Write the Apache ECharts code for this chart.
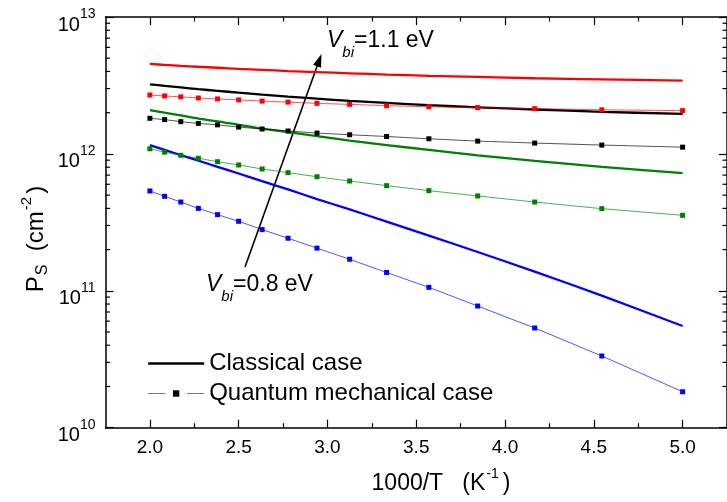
<!DOCTYPE html>
<html><head><meta charset="utf-8">
<script src="https://cdn.jsdelivr.net/npm/echarts@6/dist/echarts.min.js"></script>
<style>html,body{margin:0;padding:0;background:#fff}#c{width:727px;height:502px}</style>
</head><body><div id="c"></div>
<script>
// ---- data (values in units of 1e12 cm^-2) ----
const UNIT = 1e12;
const invT = [2.000, 2.083, 2.174, 2.273, 2.381, 2.500, 2.632, 2.778, 2.941, 3.125, 3.333, 3.571, 3.846, 4.167, 4.545, 5.000];
const xTicks = [2.0, 2.5, 3.0, 3.5, 4.0, 4.5, 5.0];
const xMinorTicks = [2.25, 2.75, 3.25, 3.75, 4.25, 4.75];
const yMinorTicks = [2e10,3e10,4e10,5e10,6e10,7e10,8e10,9e10,2e11,3e11,4e11,5e11,6e11,7e11,8e11,9e11,2e12,3e12,4e12,5e12,6e12,7e12,8e12,9e12];

const classicalRed   = [4.54,4.47,4.40,4.33,4.26,4.18,4.11,4.03,3.96,3.88,3.80,3.72,3.65,3.57,3.50,3.43];
const quantumRed     = [2.69,2.65,2.61,2.56,2.52,2.48,2.43,2.39,2.34,2.30,2.25,2.21,2.18,2.14,2.10,2.07];
const classicalBlack = [3.22,3.14,3.06,2.97,2.89,2.80,2.71,2.62,2.53,2.44,2.36,2.27,2.19,2.11,2.03,1.96];
const quantumBlack   = [1.82,1.78,1.72,1.67,1.63,1.57,1.52,1.47,1.42,1.38,1.34,1.29,1.24,1.20,1.16,1.12];
const classicalGreen = [2.09,2.00,1.91,1.81,1.73,1.63,1.53,1.44,1.35,1.25,1.16,1.07,0.977,0.889,0.805,0.724];
const quantumGreen   = [1.09,1.03,0.977,0.929,0.877,0.830,0.776,0.729,0.681,0.634,0.586,0.539,0.493,0.445,0.398,0.356];
const classicalBlue  = [1.16,1.07,0.980,0.892,0.805,0.719,0.632,0.550,0.468,0.393,0.320,0.253,0.192,0.138,0.0922,0.0553];
const quantumBlue    = [0.536,0.490,0.445,0.400,0.360,0.322,0.280,0.242,0.205,0.170,0.136,0.106,0.0774,0.0535,0.0334,0.0183];

const FONT = "'Liberation Sans', Arial, sans-serif";
const pairs = arr => arr.map((v, i) => [invT[i], v * UNIT]);

function classical(name, color, vals) {
  return { type: 'line', name, data: pairs(vals), symbol: 'none', smooth: 0.3,
    lineStyle: { color, width: 2.3 }, itemStyle: { color }, z: 2, silent: true };
}
function quantum(name, color, vals) {
  return { type: 'line', name, data: pairs(vals), symbol: 'rect', symbolSize: 5, showSymbol: true,
    lineStyle: { color, width: 0.9, opacity: 0.75 }, itemStyle: { color }, z: 3, silent: true };
}

const chart = echarts.init(document.getElementById('c'), null, { renderer: 'canvas' });
const GL = 105.5, GT = 17, GW = 627, GH = 410.7;
const axisLineStyle = { color: '#000', width: 1.5 };
const tickLineStyle = { color: '#000', width: 1.2 };
const hiddenX = (pos, vals, len, line) => ({
  type: 'value', min: 1.75, max: 5.25, position: pos, gridIndex: 0,
  axisLine: { show: line, onZero: false, lineStyle: axisLineStyle },
  axisTick: { show: true, inside: true, length: len, customValues: vals, lineStyle: tickLineStyle },
  axisLabel: { show: false }, splitLine: { show: false }
});

chart.setOption({
  animation: false,
  backgroundColor: '#fff',
  grid: { left: GL, top: GT, width: GW, height: GH, containLabel: false },
  xAxis: [
    { type: 'value', min: 1.75, max: 5.25, position: 'bottom',
      axisLine: { show: true, onZero: false, lineStyle: axisLineStyle },
      axisTick: { show: true, inside: true, length: 8, customValues: xTicks, lineStyle: tickLineStyle },
      axisLabel: { customValues: xTicks, formatter: v => v.toFixed(1), fontSize: 19, fontFamily: FONT, color: '#000', margin: 11 },
      splitLine: { show: false } },
    hiddenX('bottom', xMinorTicks, 4.5, false),
    hiddenX('top', xTicks, 8, true),
    hiddenX('top', xMinorTicks, 4.5, false)
  ],
  yAxis: [
    { type: 'log', logBase: 10, min: 1e10, max: 1e13, position: 'left',
      axisLine: { show: true, onZero: false, lineStyle: axisLineStyle },
      axisTick: { show: true, inside: true, length: 8, lineStyle: tickLineStyle },
      axisLabel: { margin: 10, showMinLabel: true, showMaxLabel: true,
        formatter: v => '{b|10}{s|' + Math.round(Math.log10(v)) + '}',
        rich: {
          b: { fontSize: 20, lineHeight: 20, padding: [8, 0, 4, 0], verticalAlign: 'top', fontFamily: FONT, color: '#000' },
          s: { fontSize: 14, lineHeight: 14, verticalAlign: 'top', fontFamily: FONT, color: '#000' }
        } },
      splitLine: { show: false }, minorTick: { show: false } },
    { type: 'log', logBase: 10, min: 1e10, max: 1e13, position: 'right',
      axisLine: { show: true, onZero: false, lineStyle: axisLineStyle },
      axisTick: { show: true, inside: true, length: 8, lineStyle: tickLineStyle },
      axisLabel: { show: false }, splitLine: { show: false } }
  ],
  legend: {
    data: [ { name: 'Classical case', itemStyle: { opacity: 0 }, lineStyle: { color: '#000', width: 2.3 } },
            { name: 'Quantum mechanical case', itemStyle: { color: '#000', borderWidth: 0 },
              lineStyle: { type: [17, 22], color: '#777', width: 1.2, opacity: 1 } } ],
    orient: 'vertical', left: 147, top: 351, padding: 0, itemWidth: 56, itemHeight: 8, itemGap: 5,
    selectedMode: false,
    textStyle: { fontSize: 24, lineHeight: 25, fontFamily: FONT, color: '#000' }
  },
  series: [
    classical('red-classical', '#ff0000', classicalRed),
    classical('Classical case', '#000000', classicalBlack),
    classical('green-classical', '#008000', classicalGreen),
    classical('blue-classical', '#0000ff', classicalBlue),
    quantum('red-quantum', '#ff0000', quantumRed),
    quantum('Quantum mechanical case', '#000000', quantumBlack),
    quantum('green-quantum', '#008000', quantumGreen),
    quantum('blue-quantum', '#0000ff', quantumBlue)
  ]
});

// ---- annotations, titles and log minor ticks ----
const gl = chart.convertToPixel({ xAxisIndex: 0 }, 1.75);
const gr = chart.convertToPixel({ xAxisIndex: 0 }, 5.25);
const g = [];
yMinorTicks.forEach(v => {
  const py = chart.convertToPixel({ yAxisIndex: 0 }, v);
  g.push({ type: 'line', silent: true, shape: { x1: gl, y1: py, x2: gl + 4.5, y2: py }, style: { stroke: '#000', lineWidth: 1.2 } });
  g.push({ type: 'line', silent: true, shape: { x1: gr - 4.5, y1: py, x2: gr, y2: py }, style: { stroke: '#000', lineWidth: 1.2 } });
});

const vbiRich = {
  v: { fontSize: 23, lineHeight: 23, fontStyle: 'italic', verticalAlign: 'top', fontFamily: FONT, fill: '#000' },
  b: { fontSize: 15, lineHeight: 15, fontStyle: 'italic', padding: [16, 0, 0, 0], verticalAlign: 'top', fontFamily: FONT, fill: '#000' },
  t: { fontSize: 23, lineHeight: 23, verticalAlign: 'top', fontFamily: FONT, fill: '#000' }
};
g.push({ type: 'text', silent: true, x: 327, y: 29,
  style: { text: '{v|V}{b|bi}{t|=1.1 eV}', rich: vbiRich, verticalAlign: 'top', align: 'left' } });
g.push({ type: 'text', silent: true, x: 206, y: 273,
  style: { text: '{v|V}{b|bi}{t|=0.8 eV}', rich: vbiRich, verticalAlign: 'top', align: 'left' } });

// arrow
const x0 = 245, y0 = 267, x1 = 321.5, y1 = 54;
const dx = x1 - x0, dy = y1 - y0, L = Math.hypot(dx, dy), ux = dx / L, uy = dy / L;
const hl = 13, hw = 4.2;
const bx = x1 - ux * hl, by = y1 - uy * hl;
g.push({ type: 'line', silent: true, shape: { x1: x0, y1: y0, x2: bx + ux * 2, y2: by + uy * 2 }, style: { stroke: '#000', lineWidth: 1.6 } });
g.push({ type: 'polygon', silent: true, shape: { points: [[x1, y1], [bx - uy * hw, by + ux * hw], [bx + uy * hw, by - ux * hw]] }, style: { fill: '#000' } });

// x axis title
g.push({ type: 'text', silent: true, x: 441, y: 467,
  style: { text: '{m|1000/T   (K}{s|-1}{m|)}', align: 'center', verticalAlign: 'top',
    rich: { m: { fontSize: 23, lineHeight: 23, padding: [5, 0, 0, 0], verticalAlign: 'top', fontFamily: FONT, fill: '#000' },
            s: { fontSize: 14, lineHeight: 14, padding: [0, 4, 0, 1], verticalAlign: 'top', fontFamily: FONT, fill: '#000' } } } });

// y axis title (rotated)
g.push({ type: 'text', silent: true, x: 31, y: 239, rotation: Math.PI / 2,
  style: { text: '{m|P}{b|S}{m|  (cm}{s|-2}{m|)}', align: 'center', verticalAlign: 'middle',
    rich: { m: { fontSize: 24, lineHeight: 24, padding: [5, 0, 0, 0], verticalAlign: 'top', fontFamily: FONT, fill: '#000' },
            b: { fontSize: 16, lineHeight: 16, padding: [16, 0, 0, 1], verticalAlign: 'top', fontFamily: FONT, fill: '#000' },
            s: { fontSize: 15, lineHeight: 15, padding: [0, 3, 0, 1], verticalAlign: 'top', fontFamily: FONT, fill: '#000' } } } });

chart.setOption({ graphic: g });
</script>
</body></html>
